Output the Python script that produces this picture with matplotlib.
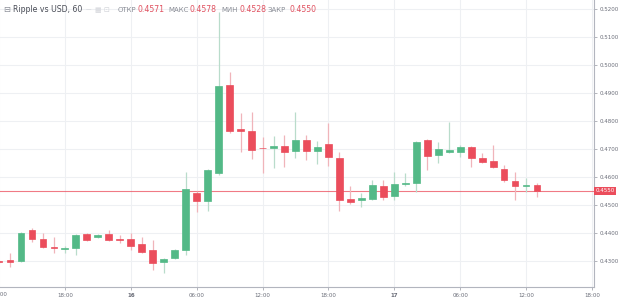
import numpy as np
import matplotlib.pyplot as plt
from matplotlib.transforms import blended_transform_factory

# hourly candles, index 0 = 15th 13:00 (index 11 = 16th 00:00)
hours = list(range(-1, 49))
opens = [0.4300, 0.4304, 0.4300, 0.4411, 0.4379, 0.4350, 0.4343, 0.4346, 0.4396, 0.4386,
         0.4396, 0.4379, 0.4379, 0.4361, 0.4339, 0.4296, 0.4311, 0.4339, 0.4543, 0.4514,
         0.4614, 0.4929, 0.4771, 0.4764, 0.4705, 0.4704, 0.4711, 0.4693, 0.4732, 0.4693,
         0.4718, 0.4668, 0.4521, 0.4518, 0.4521, 0.4568, 0.4532, 0.4575, 0.4579, 0.4732,
         0.4679, 0.4691, 0.4689, 0.4707, 0.4668, 0.4657, 0.4629, 0.4586, 0.4568, 0.4571]
closes = [0.4296, 0.4296, 0.4400, 0.4379, 0.4350, 0.4346, 0.4346, 0.4393, 0.4375, 0.4393,
          0.4375, 0.4375, 0.4354, 0.4332, 0.4293, 0.4307, 0.4339, 0.4557, 0.4514, 0.4625,
          0.4925, 0.4764, 0.4764, 0.4696, 0.4702, 0.4711, 0.4689, 0.4732, 0.4693, 0.4707,
          0.4671, 0.4518, 0.4511, 0.4525, 0.4571, 0.4529, 0.4575, 0.4579, 0.4725, 0.4675,
          0.4700, 0.4695, 0.4707, 0.4668, 0.4654, 0.4636, 0.4589, 0.4568, 0.4571, 0.4550]
highs = [0.4303, 0.4329, 0.4404, 0.4418, 0.4400, 0.4386, 0.4354, 0.4396, 0.4400, 0.4396,
         0.4411, 0.4393, 0.4400, 0.4386, 0.4375, 0.4311, 0.4343, 0.4618, 0.4550, 0.4629,
         0.5189, 0.4975, 0.4829, 0.4832, 0.4743, 0.4746, 0.4750, 0.4832, 0.4750, 0.4729,
         0.4793, 0.4689, 0.4568, 0.4543, 0.4589, 0.4589, 0.4618, 0.4614, 0.4729, 0.4736,
         0.4725, 0.4796, 0.4714, 0.4711, 0.4686, 0.4714, 0.4643, 0.4618, 0.4596, 0.4578]
lows = [0.4293, 0.4279, 0.4296, 0.4368, 0.4346, 0.4329, 0.4329, 0.4321, 0.4371, 0.4382,
        0.4371, 0.4364, 0.4339, 0.4329, 0.4268, 0.4257, 0.4307, 0.4321, 0.4475, 0.4479,
        0.4607, 0.4757, 0.4689, 0.4664, 0.4614, 0.4632, 0.4636, 0.4668, 0.4661, 0.4646,
        0.4639, 0.4479, 0.4504, 0.4493, 0.4518, 0.4518, 0.4518, 0.4568, 0.4546, 0.4625,
        0.4650, 0.4686, 0.4671, 0.4636, 0.4650, 0.4632, 0.4582, 0.4518, 0.4546, 0.4528]

tick_pos = [-1, 5, 11, 17, 23, 29, 35, 41, 47, 53]
tick_labels = ["12:00", "18:00", "16", "06:00", "12:00", "18:00", "17", "06:00", "12:00", "18:00"]
price_ticks = [0.43, 0.44, 0.45, 0.46, 0.47, 0.48, 0.49, 0.50, 0.51, 0.52]

header = [("ОТКР", "0.4571"), ("МАКС", "0.4578"), ("МИН", "0.4528"), ("ЗАКР", "0.4550")]

UP = "#53b987"
DOWN = "#eb4d5c"
UP_WICK = "#b9dccb"
DOWN_WICK = "#f0b4ba"
GRID = "#eef0f3"
TXT = "#6a6d78"

x = np.array(hours)
o = np.array(opens)
c = np.array(closes)
up = c >= o

fig = plt.figure(figsize=(6.2, 3.02), dpi=100)
ax = fig.add_axes([0, 15 / 302, 594 / 620, 287 / 302])

for xv in tick_pos:
    ax.axvline(xv, color=GRID, lw=0.8, zorder=0)
for yv in price_ticks:
    ax.axhline(yv, color=GRID, lw=0.8, zorder=0)

ax.vlines(x, lows, highs, colors=np.where(up, UP_WICK, DOWN_WICK), lw=0.9, zorder=2)
ax.bar(x, np.abs(c - o), bottom=np.minimum(o, c), width=0.62,
       color=np.where(up, UP, DOWN), edgecolor=np.where(up, UP, DOWN), lw=0.5, zorder=3)

last = closes[-1]
ax.axhline(last, color=DOWN, lw=0.8, alpha=0.75, zorder=1)

ax.set_xlim(-0.91, 53.19)
ax.set_ylim(0.42071, 0.52321)

ax.yaxis.tick_right()
ax.set_yticks(price_ticks)
ax.set_yticklabels([f"{v:.4f}" for v in price_ticks])
ax.set_xticks(tick_pos[1:])
ax.set_xticklabels(tick_labels[1:])
for lab in ax.get_xticklabels():
    if ":" not in lab.get_text():
        lab.set_fontweight("bold")
ax.tick_params(axis="both", labelsize=4, colors="#9598a1", labelcolor=TXT, length=2, width=0.5, pad=2)

trans = blended_transform_factory(ax.transData, ax.transAxes)
ax.text(tick_pos[0], -0.026, tick_labels[0], transform=trans, ha="center", va="center",
        fontsize=4, color=TXT, clip_on=False)

for s in ["top", "left"]:
    ax.spines[s].set_visible(False)
for s in ["right", "bottom"]:
    ax.spines[s].set_color("#b2b5be")
    ax.spines[s].set_linewidth(0.8)

# last price label on the price scale
ax.text(1.003, last, f"{last:.4f}", transform=blended_transform_factory(ax.transAxes, ax.transData),
        ha="left", va="center", fontsize=4, color="white", clip_on=False,
        bbox=dict(boxstyle="square,pad=0.25", fc=DOWN, ec="none"))

# header
hy = 1 - 10 / 302
fig.text(3 / 620, hy, "⊟", fontsize=6, color="#8a8d96", va="center")
fig.text(13 / 620, hy, "Ripple vs USD, 60", fontsize=5.6, color="#4a4d57", va="center")
fig.text(86 / 620, hy, "—", fontsize=4, color="#c8cad0", va="center")
fig.text(95 / 620, hy, "▦ ⊡", fontsize=5, color="#d3d5da", va="center")
xs = [(118, 138), (168, 190), (221, 239), (268, 290)]
for (lx, vx), (name, val) in zip(xs, header):
    fig.text(lx / 620, hy, name, fontsize=5, color="#8a8d96", va="center")
    fig.text(vx / 620, hy, val, fontsize=5.6, color="#e0505f", va="center")

fig.savefig("out.png", dpi=100)
